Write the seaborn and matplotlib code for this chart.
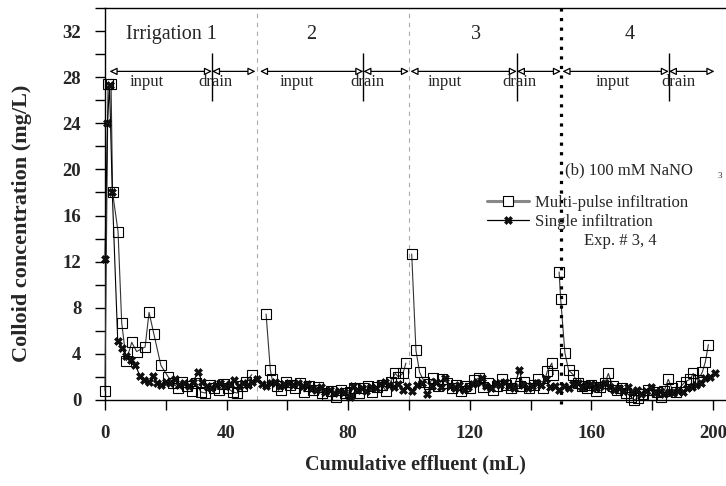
import matplotlib
matplotlib.use("Agg")
import matplotlib.pyplot as plt
import seaborn as sns
import pandas as pd
from matplotlib.lines import Line2D
from matplotlib.ticker import MultipleLocator

# ---- data: colloid concentration (mg/L) vs cumulative effluent (mL) ----
# Multi-pulse infiltration, one list pair per irrigation event
m1_x = [0.0, 1.0, 2.0, 2.5, 4.3, 5.5, 7.0, 8.8, 10.4, 13.2, 14.5, 16.1, 18.4, 20.8,
        22.5, 24.0, 25.5, 27.0, 28.5, 30.0, 31.5, 33.0, 34.5, 36.0, 37.5, 39.0,
        40.5, 42.0, 43.5, 45.0, 46.5, 48.3]
m1_y = [0.8, 27.4, 27.4, 18.0, 14.6, 6.7, 3.4, 5.0, 4.2, 4.6, 7.6, 5.7, 3.0, 2.0,
        1.5, 1.0, 1.6, 1.2, 0.8, 1.5, 0.7, 0.6, 1.3, 1.0, 0.9, 1.4,
        1.0, 0.7, 0.6, 1.2, 1.6, 2.2]

m2_x = [53.0, 54.4, 55.0, 56.5, 58.0, 59.5, 61.0, 62.5, 64.0, 65.5, 67.0, 68.5,
        70.0, 71.5, 73.0, 74.5, 76.0, 77.5, 79.0, 80.5, 82.0, 83.5, 85.0, 86.5,
        88.0, 89.5, 91.0, 92.5, 94.0, 95.5, 96.5, 98.0, 99.0]
m2_y = [7.45, 2.6, 1.8, 1.2, 0.9, 1.6, 1.3, 1.0, 1.5, 0.7, 1.2, 0.9,
        1.1, 0.6, 0.4, 0.8, 0.3, 0.9, 0.6, 0.7, 1.0, 0.6, 1.0, 1.2,
        0.7, 1.1, 1.3, 0.8, 1.6, 2.3, 2.0, 2.3, 3.2]

m3_x = [100.9, 102.3, 103.5, 105.0, 106.5, 108.0, 109.5, 111.0, 112.5, 114.0,
        115.5, 117.0, 118.5, 120.0, 121.5, 123.0, 124.5, 126.0, 127.5, 129.0,
        130.5, 132.0, 133.5, 135.0, 136.5, 138.0, 139.5, 141.0, 142.5, 144.0,
        145.5, 147.0, 147.5]
m3_y = [12.66, 4.3, 2.4, 1.6, 1.4, 1.9, 1.2, 1.8, 1.5, 1.0,
        1.3, 0.8, 1.2, 1.0, 1.7, 1.9, 1.1, 1.5, 0.9, 1.2,
        1.8, 1.3, 1.0, 1.5, 1.2, 1.6, 1.0, 1.3, 1.8, 1.0,
        2.5, 3.2, 2.2]

m4_x = [149.4, 149.9, 151.3, 152.5, 154.0, 155.5, 157.0, 158.5, 160.0, 161.5,
        163.0, 164.5, 165.6, 167.0, 168.5, 170.0, 171.5, 173.0, 174.0, 175.5,
        177.0, 178.5, 180.0, 181.5, 183.0, 184.0, 185.3, 186.5, 188.0, 189.5,
        191.0, 192.5, 193.5, 195.0, 196.5, 197.5, 198.5]
m4_y = [11.1, 8.8, 4.1, 2.6, 2.2, 1.5, 1.2, 1.0, 1.3, 0.8,
        1.1, 1.5, 2.3, 1.2, 0.9, 1.0, 0.6, 0.3, 0.0, 0.2,
        0.5, 0.9, 0.4, 0.7, 0.3, 0.8, 1.8, 1.0, 0.7, 1.2,
        1.6, 1.8, 2.3, 1.7, 2.4, 3.3, 4.8]

# Single infiltration
single_x = [0.0, 0.8, 1.5, 2.4, 4.2, 5.5, 7.0, 8.5, 10.0, 11.5, 13.0, 14.5, 15.7,
            17.0, 18.5, 20.0, 21.5, 23.0, 24.5, 26.0, 27.5, 29.0, 30.6, 32.0, 33.5,
            35.0, 36.5, 38.0, 39.5, 41.0, 42.5, 44.0, 45.5, 47.0, 48.5, 50.0, 51.5,
            53.0, 54.5, 56.0, 57.5, 59.0, 60.5, 62.0, 63.5, 65.0, 66.5, 68.0, 69.5,
            71.0, 72.5, 74.0, 75.5, 77.0, 78.5, 80.6, 81.5, 83.0, 84.5, 86.0, 87.5,
            89.0, 90.5, 92.0, 93.5, 95.0, 96.5, 98.0, 99.5, 101.0, 102.5, 104.2,
            106.0, 107.5, 109.0, 110.5, 112.0, 113.5, 115.0, 116.5, 118.0, 119.5,
            121.0, 122.5, 124.0, 125.5, 127.0, 128.5, 130.0, 131.5, 133.0, 134.5,
            136.3, 137.5, 139.0, 140.5, 142.0, 143.6, 145.0, 146.5, 148.0, 149.5,
            151.0, 152.5, 154.0, 155.5, 157.0, 158.5, 160.0, 161.5, 163.0, 164.5,
            166.0, 167.5, 169.0, 170.5, 172.0, 173.5, 175.0, 176.5, 178.0, 179.5,
            181.0, 182.5, 184.0, 185.5, 187.0, 188.5, 190.0, 191.5, 193.0, 194.5,
            196.0, 197.5, 199.0, 200.7]
single_y = [12.2, 24.0, 27.3, 18.0, 5.1, 4.5, 3.8, 3.5, 3.0, 2.1, 1.7, 1.6, 2.1,
            1.5, 1.3, 1.6, 1.5, 1.8, 1.3, 1.5, 1.2, 1.6, 2.4, 1.6, 1.2,
            1.0, 1.3, 1.5, 1.2, 1.4, 1.7, 1.2, 1.5, 1.3, 1.6, 1.8, 1.4,
            1.2, 1.5, 1.6, 1.2, 1.4, 1.5, 1.3, 1.5, 1.2, 1.4, 1.0, 0.9,
            1.1, 0.7, 0.9, 0.6, 0.8, 0.7, 0.3, 1.2, 0.9, 1.0, 0.8, 1.1,
            1.0, 1.4, 1.6, 1.3, 1.1, 1.4, 0.9, 1.2, 0.8, 1.3, 1.5,
            0.5, 1.2, 1.6, 1.1, 1.9, 1.2, 1.0, 1.3, 0.9, 1.1,
            1.4, 1.6, 1.9, 1.2, 1.0, 1.5, 1.3, 1.6, 1.2, 1.0,
            2.6, 1.3, 1.0, 1.2, 1.5, 1.3, 1.8, 1.1, 1.2, 0.9,
            1.2, 1.0, 1.4, 1.5, 1.1, 1.3, 1.4, 1.0, 1.2, 1.5,
            1.1, 0.9, 1.0, 0.8, 1.1, 0.7, 0.9, 0.5, 0.8, 1.1,
            0.6, 0.8, 0.5, 0.7, 0.6, 0.8, 0.7, 1.0, 1.1, 1.3,
            1.5, 1.9, 2.0, 2.3]

# Irrigation phases
irr_labels = ["Irrigation 1", "2", "3", "4"]
irr_label_x = [22.0, 68.0, 122.0, 172.7]
input_start = [1.5, 51.0, 100.5, 150.5]
drain_start = [35.2, 85.0, 135.5, 185.5]
drain_end = [49.5, 100.0, 150.0, 200.5]
input_text_x = [13.7, 63.0, 111.8, 167.0]
drain_text_x = [36.4, 86.3, 136.3, 188.7]

# ---- styling ----
sns.set_theme(style="ticks")
plt.rcParams["font.family"] = ["Liberation Serif", "DejaVu Serif"]

fig = plt.figure(figsize=(7.26, 4.86), dpi=100)
ax = fig.add_axes([0.1446, 0.177, 0.8554, 0.8066])

multi = pd.concat([
    pd.DataFrame({"volume": xs, "conc": ys, "irrigation": k})
    for k, (xs, ys) in enumerate([(m1_x, m1_y), (m2_x, m2_y), (m3_x, m3_y), (m4_x, m4_y)], 1)
], ignore_index=True)
single = pd.DataFrame({"volume": single_x, "conc": single_y})

sns.lineplot(data=multi, x="volume", y="conc", units="irrigation", estimator=None,
             sort=False, color="#333333", lw=0.8, marker="s", markersize=7.5,
             markerfacecolor="none", markeredgecolor="black", markeredgewidth=0.8,
             ax=ax, legend=False, clip_on=False, zorder=3)
sns.lineplot(data=single, x="volume", y="conc", estimator=None, sort=False,
             color="black", lw=0.8, marker="X", markersize=5.5,
             markerfacecolor="#111111", markeredgecolor="black", markeredgewidth=0.4,
             ax=ax, legend=False, clip_on=False, zorder=4)

# phase separators
for xv in [50, 100]:
    ax.axvline(xv, color="#aaaaaa", lw=0.8, ls=(0, (4, 4)), zorder=1)
ax.axvline(150, ymin=-0.01, ymax=1.0, color="black", lw=2.3, ls=(0, (1, 2)),
           zorder=5, clip_on=False)

# input/drain arrows
arrow_y = 28.5
aprops = dict(arrowstyle="<|-|>", facecolor="white", edgecolor="black", lw=0.9,
              shrinkA=0, shrinkB=0, mutation_scale=11)
for i in range(4):
    ax.annotate("", xy=(drain_start[i], arrow_y), xytext=(input_start[i], arrow_y),
                arrowprops=aprops)
    ax.annotate("", xy=(drain_end[i], arrow_y), xytext=(drain_start[i], arrow_y),
                arrowprops=aprops)
    ax.vlines(drain_start[i], 25.9, 30.1, color="black", lw=1.0)
    ax.text(input_text_x[i], 27.6, "input", ha="center", va="center", fontsize=12)
    ax.text(drain_text_x[i], 27.6, "drain", ha="center", va="center", fontsize=12)
    ax.text(irr_label_x[i], 31.66, irr_labels[i], ha="center", va="center", fontsize=14.5)

# annotations
ax.text(151.3, 19.95, "(b) 100 mM NaNO", ha="left", va="center", fontsize=12)
ax.text(202.3, 19.45, "3", ha="center", va="center", fontsize=6.5)
ax.text(169.4, 13.8, "Exp. # 3, 4", ha="center", va="center", fontsize=12)

handles = [
    Line2D([], [], color="#888888", lw=2.2, marker="s", markersize=7,
           markerfacecolor="white", markeredgecolor="black", markeredgewidth=0.8),
    Line2D([], [], color="black", lw=0.9, marker="X", markersize=5.5,
           markerfacecolor="#111111", markeredgecolor="black", markeredgewidth=0.4),
]
leg = ax.legend(handles, ["Multi-pulse infiltration", "Single infiltration"],
                loc="upper left", bbox_to_anchor=(487 / 726, 1 - 195 / 486),
                bbox_transform=fig.transFigure, frameon=False, fontsize=12,
                handlelength=2.5, handletextpad=0.4, labelspacing=0.15,
                borderpad=0, borderaxespad=0)

# axes
ax.set_xlim(0, 204.3)
ax.set_ylim(0, 34)
ax.xaxis.set_major_locator(MultipleLocator(40))
ax.xaxis.set_minor_locator(MultipleLocator(20))
ax.yaxis.set_major_locator(MultipleLocator(4))
ax.yaxis.set_minor_locator(MultipleLocator(2))
ax.tick_params(which="both", direction="out", length=7, width=1, color="black",
               top=False, right=False)
ax.tick_params(axis="x", which="major", pad=11)
ax.tick_params(axis="y", which="major", pad=10)
for lab in ax.get_xticklabels() + ax.get_yticklabels():
    lab.set_fontweight("bold")
    lab.set_fontsize(13.5)
ax.spines["right"].set_visible(False)
for s in ["left", "bottom", "top"]:
    ax.spines[s].set_color("black")
    ax.spines[s].set_linewidth(1.0)

ax.set_xlabel("Cumulative effluent (mL)", fontsize=14.5, fontweight="bold", labelpad=9)
ax.set_ylabel("Colloid concentration (mg/L)", fontsize=16, fontweight="bold")
ax.yaxis.set_label_coords(-0.118, 0.45)

fig.savefig("out.png", dpi=100)
